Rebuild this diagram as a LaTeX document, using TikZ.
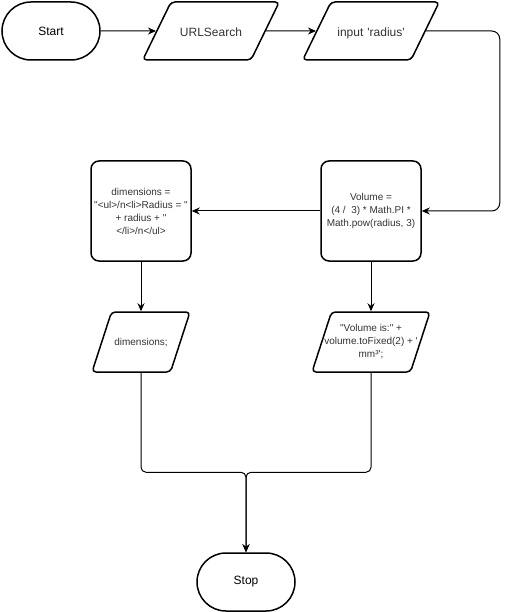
\documentclass[tikz,border=0pt]{standalone}
\usepackage{fontspec}
\newfontfamily\flowfont{Liberation Sans}
\usetikzlibrary{shapes.geometric, arrows.meta}
\tikzstyle{term} = [rectangle, rounded corners=29pt, minimum width=98pt, minimum height=58pt, text centered, draw=black, line width=1.5pt, font=\flowfont\fontsize{12}{14}\selectfont]
\tikzstyle{io} = [trapezium, trapezium left angle=64, trapezium right angle=116, inner sep=0pt, text width=80pt, text height=35pt, text depth=23pt, align=center, rounded corners=4pt, draw=black, line width=1.5pt, text=black!80, font=\flowfont\fontsize{12}{14}\selectfont]
\tikzstyle{proc} = [rectangle, rounded corners=8pt, minimum width=100pt, minimum height=100pt, inner sep=1pt, align=center, draw=black, line width=1.5pt, text=black!80, font=\flowfont\fontsize{10}{13}\selectfont]
\tikzstyle{small} = [trapezium left angle=72, trapezium right angle=108, text height=33.5pt, text depth=26.5pt, font=\flowfont\fontsize{10}{13}\selectfont]
\tikzstyle{arrow} = [line width=1pt,->,>={Stealth[length=8pt,width=7pt]}]

\begin{document}
\begin{tikzpicture}[node distance=160pt]
	\useasboundingbox (-51pt,31pt) rectangle (459pt,-581pt);
	\node (start) [term] {Start};
	\node (url) [io, right of=start] {URLSearch};
	\node (input) [io, right of=url] {input 'radius'};
	\node (volume) [proc, below of=input, node distance=180pt] {Volume =\\(4 /~~3) * Math.PI *\\Math.pow(radius, 3)};
	\node (dims) [proc, left of=volume, node distance=230pt] {dimensions =\\"<ul>/n<li>Radius = "\\+ radius + "\\</li>/n</ul>};
	\node (dimsout) [io, small, text width=59pt, below of=dims, node distance=131pt] {dimensions;};
	\node (volout) [io, small, text width=79pt, below of=volume, node distance=131pt,
		label={[align=center, text=black!80, font=\flowfont\fontsize{10}{13}\selectfont]center:{"Volume is:" +\\volume.toFixed(2) + '\\mm³';}}] {};
	\node (stop) [term, below of=dimsout, node distance=240pt, xshift=105pt] {Stop};
	\draw [arrow] (start) -- (url);
	\draw [arrow] (url) -- (input);
	\draw [arrow, rounded corners=8pt] (input.east) -| ([xshift=78pt]volume.east) -- (volume.east);
	\draw [arrow] (volume) -- (dims);
	\draw [arrow] (dims) -- (dimsout);
	\draw [arrow] (volume) -- (volout);
	\draw [arrow, rounded corners=5pt] (dimsout.south) |- ([yshift=80pt]stop.north) -- (stop.north);
	\draw [arrow, rounded corners=5pt] (volout.south) |- ([yshift=80pt]stop.north) -- (stop.north);
\end{tikzpicture}
\end{document}
